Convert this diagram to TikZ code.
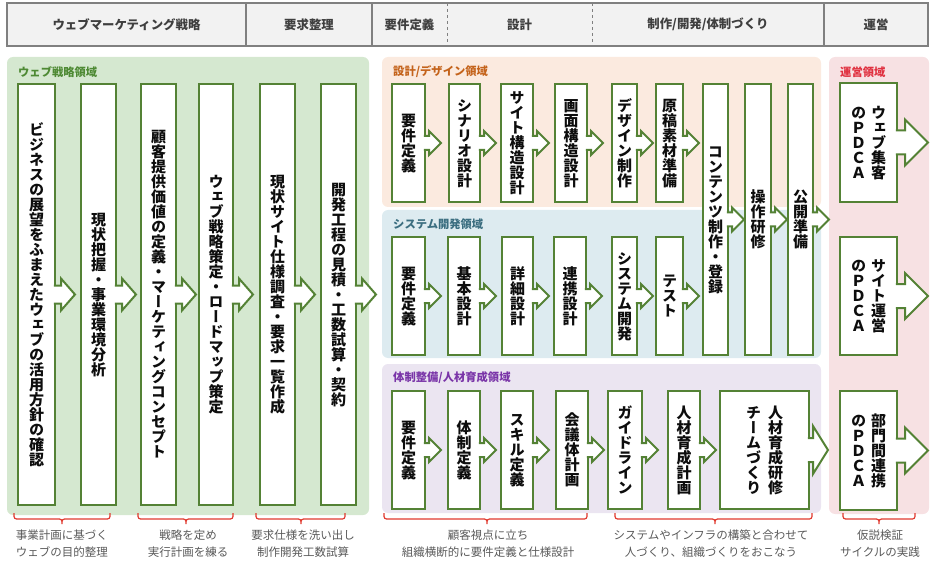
\documentclass[tikz,border=0pt]{standalone}
\usepackage{fontspec}
\setmainfont{Noto Sans CJK JP}
\usetikzlibrary{calc}

\definecolor{boxgreen}{HTML}{548235}
\definecolor{webgreen}{HTML}{D5E8D0}
\definecolor{designorange}{HTML}{FBEADF}
\definecolor{sysblue}{HTML}{DDEBF0}
\definecolor{orgpurple}{HTML}{EBE5F1}
\definecolor{opspink}{HTML}{F7E1E3}
\definecolor{headgray}{HTML}{F2F2F2}
\definecolor{linegray}{HTML}{808080}
\definecolor{textgray}{HTML}{3F3F3F}
\definecolor{notegray}{HTML}{595959}
\definecolor{bracered}{HTML}{E0392E}
\definecolor{titlegreen}{HTML}{4E8A34}
\definecolor{titleorange}{HTML}{C4631B}
\definecolor{titleblue}{HTML}{3B6E80}
\definecolor{titlepurple}{HTML}{7A35A8}
\definecolor{titlered}{HTML}{E0303F}

\newcommand\boxfont{\bfseries\fontsize{15}{15}\selectfont}
\tikzstyle{stepbox}=[draw=boxgreen, line width=2pt, fill=white, inner sep=0pt, outer sep=0pt, text=black!95, font=\boxfont]
\tikzstyle{arrowline}=[draw=boxgreen, line width=2pt, fill=white]
\tikzstyle{phase}=[inner sep=0pt, text=textgray, font=\bfseries\fontsize{12.4}{14}\selectfont]
\tikzstyle{areatitle}=[anchor=west, inner sep=0pt, font=\bfseries\fontsize{11.3}{13}\selectfont]
\tikzstyle{notetext}=[align=center, inner sep=0pt, text=notegray, font=\fontsize{11.5}{17}\selectfont]
\tikzstyle{bracket}=[draw=bracered, line width=1.2pt, rounded corners=2.5pt]

% one character per line, vertical forms
\ExplSyntaxOn
\NewDocumentCommand\vt{m}{\vtop{\offinterlineskip\addfontfeatures{RawFeature=+vert}\tl_map_inline:nn{#1}{\hbox to 1em{\vrule height .88em depth .12em width 0pt\hss ##1\hss}}}}
\ExplSyntaxOff

% arrow on the right side of a box: node, shaft half, shaft length, head half, head length
\newcommand\boxarrow[5]{\draw[arrowline] ($(#1.east)+(-1.2,-#2)$) -- ($(#1.east)+(#3,-#2)$) -- ($(#1.east)+(#3,-#4)$) -- ($(#1.east)+(#3+#5,0)$) -- ($(#1.east)+(#3,#4)$) -- ($(#1.east)+(#3,#2)$) -- ($(#1.east)+(-1.2,#2)$);}

\begin{document}
\begin{tikzpicture}[x=1pt, y=-1pt]
    \useasboundingbox (0,0) rectangle (930,567);

    % phases
    \draw[fill=headgray, draw=linegray, line width=2pt] (7,3) rectangle (928,46);
    \draw[linegray, line width=2pt] (246,3) -- (246,46);
    \draw[linegray, line width=2pt] (372,3) -- (372,46);
    \draw[linegray, line width=2pt] (824,3) -- (824,46);
    \draw[linegray, line width=0.6pt, dashed] (447,3) -- (447,46);
    \draw[linegray, line width=0.6pt, dashed] (592,3) -- (592,46);
    \node[phase] (ph1) at (126.5,24.5) {ウェブマーケティング戦略};
    \node[phase] (ph2) at (309,24.5) {要求整理};
    \node[phase] (ph3) at (409.5,24.5) {要件定義};
    \node[phase] (ph4) at (519.5,24.5) {設計};
    \node[phase] (ph5) at (708,24.5) {制作/開発/体制づくり};
    \node[phase] (ph6) at (876,24.5) {運営};

    % areas
    \fill[webgreen, rounded corners=6pt] (7,57) rectangle (369,515);
    \fill[designorange, rounded corners=6pt] (382,57) rectangle (821,207);
    \fill[sysblue, rounded corners=6pt] (382,210) rectangle (821,358);
    \fill[orgpurple, rounded corners=6pt] (382,364) rectangle (821,513);
    \fill[opspink, rounded corners=6pt] (829,57) rectangle (929,514);
    \node[areatitle, text=titlegreen] (webarea) at (18,72) {ウェブ戦略領域};
    \node[areatitle, text=titleorange] (designarea) at (393,72) {設計/デザイン領域};
    \node[areatitle, text=titleblue] (sysarea) at (393,224) {システム開発領域};
    \node[areatitle, text=titlepurple] (orgarea) at (393,378) {体制整備/人材育成領域};
    \node[areatitle, text=titlered] (opsarea) at (840,72) {運営領域};

    % web strategy
    \node[stepbox, minimum width=37pt, minimum height=421pt] (g1) at (36.5,294.5) {\vt{ビジネスの展望をふまえたウェブの活用方針の確認}};
    \boxarrow{g1}{9}{6}{16}{14}
    \node[stepbox, minimum width=35pt, minimum height=421pt] (g2) at (98.5,294.5) {\vt{現状把握・事業環境分析}};
    \boxarrow{g2}{9}{6}{16}{14}
    \node[stepbox, minimum width=35pt, minimum height=421pt] (g3) at (158.5,294.5) {\vt{顧客提供価値の定義・マーケティングコンセプト}};
    \boxarrow{g3}{9}{6}{16}{14}
    \node[stepbox, minimum width=34pt, minimum height=421pt] (g4) at (216,294.5) {\vt{ウェブ戦略策定・ロードマップ策定}};
    \boxarrow{g4}{9}{6}{16}{14}
    \node[stepbox, minimum width=35pt, minimum height=421pt] (g5) at (277.5,294.5) {\vt{現状サイト仕様調査・要求一覧作成}};
    \boxarrow{g5}{9}{6}{16}{14}
    \node[stepbox, minimum width=35pt, minimum height=421pt] (g6) at (338.5,294.5) {\vt{開発工程の見積・工数試算・契約}};
    \boxarrow{g6}{9}{6}{16}{14}

    % design
    \node[stepbox, minimum width=33pt, minimum height=118pt] (d1) at (408.5,143) {\vt{要件定義}};
    \boxarrow{d1}{7}{4}{12}{12}
    \node[stepbox, minimum width=31pt, minimum height=118pt] (d2) at (464.5,143) {\vt{シナリオ設計}};
    \boxarrow{d2}{7}{4}{12}{12}
    \node[stepbox, minimum width=32pt, minimum height=118pt] (d3) at (517,143) {\vt{サイト構造設計}};
    \boxarrow{d3}{7}{4}{12}{12}
    \node[stepbox, minimum width=32pt, minimum height=118pt] (d4) at (571,143) {\vt{画面構造設計}};
    \boxarrow{d4}{7}{4}{12}{12}
    \node[stepbox, minimum width=25pt, minimum height=118pt] (d5) at (624.5,143) {\vt{デザイン制作}};
    \boxarrow{d5}{7}{4}{12}{12}
    \node[stepbox, minimum width=27pt, minimum height=118pt] (d6) at (669.5,143) {\vt{原稿素材準備}};
    \boxarrow{d6}{7}{4}{12}{12}

    % system
    \node[stepbox, minimum width=33pt, minimum height=118pt] (s1) at (408.5,296) {\vt{要件定義}};
    \boxarrow{s1}{7}{4}{12}{12}
    \node[stepbox, minimum width=32pt, minimum height=118pt] (s2) at (464,296) {\vt{基本設計}};
    \boxarrow{s2}{7}{4}{12}{12}
    \node[stepbox, minimum width=31pt, minimum height=118pt] (s3) at (517.5,296) {\vt{詳細設計}};
    \boxarrow{s3}{7}{4}{12}{12}
    \node[stepbox, minimum width=32pt, minimum height=118pt] (s4) at (570,296) {\vt{連携設計}};
    \boxarrow{s4}{7}{4}{12}{12}
    \node[stepbox, minimum width=25pt, minimum height=118pt] (s5) at (624.5,296) {\vt{システム開発}};
    \boxarrow{s5}{7}{4}{12}{12}
    \node[stepbox, minimum width=27pt, minimum height=118pt] (s6) at (669.5,296) {\vt{テスト}};
    \boxarrow{s6}{7}{4}{12}{12}

    % shared steps
    \node[stepbox, minimum width=25pt, minimum height=271pt] (t1) at (715.5,219.5) {\vt{コンテンツ制作・登録}};
    \boxarrow{t1}{7}{4}{12}{12}
    \node[stepbox, minimum width=26pt, minimum height=271pt] (t2) at (758,219.5) {\vt{操作研修}};
    \boxarrow{t2}{7}{4}{12}{12}
    \node[stepbox, minimum width=25pt, minimum height=271pt] (t3) at (800.5,219.5) {\vt{公開準備}};
    \boxarrow{t3}{7}{4}{12}{12}

    % organisation
    \node[stepbox, minimum width=33pt, minimum height=118pt] (p1) at (408.5,450) {\vt{要件定義}};
    \boxarrow{p1}{7}{4}{12}{12}
    \node[stepbox, minimum width=32pt, minimum height=118pt] (p2) at (464,450) {\vt{体制定義}};
    \boxarrow{p2}{7}{4}{12}{12}
    \node[stepbox, minimum width=32pt, minimum height=118pt] (p3) at (517,450) {\vt{スキル定義}};
    \boxarrow{p3}{7}{4}{12}{12}
    \node[stepbox, minimum width=32pt, minimum height=118pt] (p4) at (572,450) {\vt{会議体計画}};
    \boxarrow{p4}{7}{4}{12}{12}
    \node[stepbox, minimum width=34pt, minimum height=118pt] (p5) at (625,450) {\vt{ガイドライン}};
    \boxarrow{p5}{7}{4}{12}{12}
    \node[stepbox, minimum width=32pt, minimum height=118pt] (p6) at (684,450) {\vt{人材育成計画}};
    \boxarrow{p6}{7}{4}{12}{12}
    \node[stepbox, minimum width=89pt, minimum height=118pt] (p7) at (764.5,450) {\vt{チームづくり}\hspace{7pt}\vt{人材育成研修}};
    \boxarrow{p7}{12}{4}{24}{15}

    % operation
    \node[stepbox, minimum width=57pt, minimum height=119pt] (o1) at (868.5,142.5) {\vt{のＰＤＣＡ}\hspace{5pt}\vt{ウェブ集客}};
    \boxarrow{o1}{12}{8}{23}{23}
    \node[stepbox, minimum width=57pt, minimum height=118pt] (o2) at (868.5,296) {\vt{のＰＤＣＡ}\hspace{5pt}\vt{サイト運営}};
    \boxarrow{o2}{12}{8}{23}{23}
    \node[stepbox, minimum width=57pt, minimum height=119pt] (o3) at (868.5,450.5) {\vt{のＰＤＣＡ}\hspace{5pt}\vt{部門間連携}};
    \boxarrow{o3}{12}{8}{23}{23}

    % braces and notes
    \draw[bracket] (14,513) |- (62,519) -- (62,524) (110,513) |- (62,519) -- (62,524);
    \draw[bracket] (138,513) |- (186,519) -- (186,524) (233,513) |- (186,519) -- (186,524);
    \draw[bracket] (256,513) |- (301,519) -- (301,524) (345,513) |- (301,519) -- (301,524);
    \draw[bracket] (384,513) |- (487,519) -- (487,524) (587,513) |- (487,519) -- (487,524);
    \draw[bracket] (615,513) |- (715,519) -- (715,524) (812,513) |- (715,519) -- (715,524);
    \draw[bracket] (843,513) |- (879,519) -- (879,524) (915,513) |- (879,519) -- (879,524);
    \node[notetext] (n1) at (62,544) {事業計画に基づく\\ウェブの目的整理};
    \node[notetext] (n2) at (188,544) {戦略を定め\\実行計画を練る};
    \node[notetext] (n3) at (303,544) {要求仕様を洗い出し\\制作開発工数試算};
    \node[notetext] (n4) at (488,544) {顧客視点に立ち\\組織横断的に要件定義と仕様設計};
    \node[notetext] (n5) at (711,544) {システムやインフラの構築と合わせて\\人づくり、組織づくりをおこなう};
    \node[notetext] (n6) at (880,544) {仮説検証\\サイクルの実践};
\end{tikzpicture}
\end{document}
